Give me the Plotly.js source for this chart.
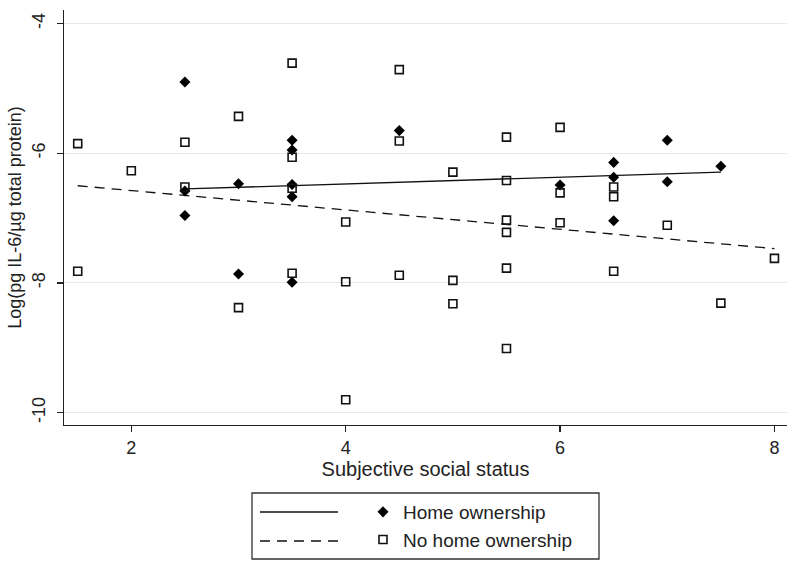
<!DOCTYPE html>
<html>
<head>
<meta charset="utf-8">
<script src="https://cdn.plot.ly/plotly-3.0.1.min.js"></script>
<style>html,body{margin:0;padding:0;background:#fff;width:800px;height:568px;overflow:hidden;}#chart{width:800px;height:568px;}</style>
</head>
<body>
<div id="chart"></div>
<script>
// Home ownership (filled diamonds)
const ownX = [2.5, 2.5, 2.5, 3, 3, 3.5, 3.5, 3.5, 3.5, 3.5, 4.5, 6, 6.5, 6.5, 6.5, 7, 7, 7.5];
const ownY = [-4.90, -6.58, -6.96, -6.47, -7.86, -5.80, -5.95, -6.48, -6.67, -7.99, -5.65, -6.49, -6.14, -6.37, -7.04, -5.80, -6.44, -6.20];

// No home ownership (hollow squares)
const noX = [1.5, 1.5, 2, 2.5, 2.5, 3, 3, 3.5, 3.5, 3.5, 3.5, 4, 4, 4, 4.5, 4.5, 4.5, 5, 5, 5,
             5.5, 5.5, 5.5, 5.5, 5.5, 5.5, 6, 6, 6, 6.5, 6.5, 6.5, 7, 7.5, 8];
const noY = [-5.85, -7.82, -6.27, -5.83, -6.52, -5.43, -8.38, -4.61, -6.06, -6.54, -7.85, -7.06, -7.98, -9.80,
             -4.71, -5.81, -7.88, -6.29, -7.96, -8.32, -5.75, -6.42, -7.03, -7.22, -7.77, -9.01,
             -5.60, -6.61, -7.07, -6.52, -6.67, -7.82, -7.11, -8.31, -7.62];

// Fitted lines
const fitOwnX = [2.5, 7.5];
const fitOwnY = [-6.55, -6.29];
const fitNoX = [1.5, 8];
const fitNoY = [-6.50, -7.47];

// Labels
const seriesNames = ["Home ownership", "No home ownership"];
const xTicks = [2, 4, 6, 8];
const yTicks = [-10, -8, -6, -4];
const xTitle = "Subjective social status";
const yTitle = "Log(pg IL-6/\u00b5g total protein)";

const FONT = "Liberation Sans, Arial, sans-serif";

const traces = [
  {x: fitOwnX, y: fitOwnY, mode: "lines", line: {color: "#111", width: 1.3}, showlegend: false, hoverinfo: "skip"},
  {x: fitNoX, y: fitNoY, mode: "lines", line: {color: "#111", width: 1.3, dash: "10px,7px"}, showlegend: false, hoverinfo: "skip"},
  {x: ownX, y: ownY, mode: "markers", name: seriesNames[0], legendgroup: "a",
   marker: {symbol: "diamond", size: 8.5, color: "#000"}},
  {x: noX, y: noY, mode: "markers", name: seriesNames[1], legendgroup: "b",
   marker: {symbol: "square-open", size: 8, color: "#111", line: {width: 1.6, color: "#111"}}}
];

// plot area: x 64..787, y 10..425
const L = 64, R = 787, T = 10, B = 425;
const px = v => (v - L) / (R - L);
const py = v => (B - v) / (B - T);

const layout = {
  width: 800, height: 568,
  margin: {l: L, r: 800 - R, t: T, b: 568 - B, pad: 0, autoexpand: false},
  paper_bgcolor: "#fff", plot_bgcolor: "#fff",
  font: {family: FONT, color: "#222"},
  xaxis: {
    range: [1.372, 8.117], tickvals: xTicks, ticktext: xTicks.map(String),
    ticks: "outside", ticklen: 6, tickwidth: 1.2, tickcolor: "#222",
    showline: true, linecolor: "#222", linewidth: 1.3,
    showgrid: false, zeroline: false, automargin: false,
    tickfont: {size: 18, family: FONT, color: "#222"},
    title: {text: xTitle, font: {size: 20, family: FONT, color: "#222"}, standoff: 4}
  },
  yaxis: {
    range: [-10.19, -3.79], tickvals: yTicks, ticktext: yTicks.map(String),
    tickangle: -90, ticklabelstandoff: 5,
    ticks: "outside", ticklen: 6, tickwidth: 1.2, tickcolor: "#222",
    showline: true, linecolor: "#222", linewidth: 1.3,
    showgrid: true, gridcolor: "#e8e8e8", gridwidth: 1,
    zeroline: false, automargin: false,
    tickfont: {size: 18, family: FONT, color: "#222"},
    title: {text: yTitle, font: {size: 18, family: FONT, color: "#222"}, standoff: 2}
  },
  showlegend: true,
  legend: {
    x: px(363), xanchor: "left", y: py(493), yanchor: "top",
    bgcolor: "rgba(0,0,0,0)", borderwidth: 0,
    font: {size: 19, family: FONT, color: "#222"},
    tracegroupgap: 0, itemsizing: "trace"
  },
  shapes: [
    {type: "rect", xref: "paper", yref: "paper", x0: px(252), x1: px(599), y0: py(559), y1: py(493),
     line: {color: "#333", width: 1.3}, fillcolor: "rgba(0,0,0,0)"},
    {type: "line", xref: "paper", yref: "paper", x0: px(260), x1: px(338), y0: py(512), y1: py(512),
     line: {color: "#111", width: 1.3}},
    {type: "line", xref: "paper", yref: "paper", x0: px(260), x1: px(338), y0: py(541), y1: py(541),
     line: {color: "#111", width: 1.3, dash: "10px,7px"}}
  ]
};

Plotly.newPlot("chart", traces, layout, {displayModeBar: false, staticPlot: true});
</script>
</body>
</html>
